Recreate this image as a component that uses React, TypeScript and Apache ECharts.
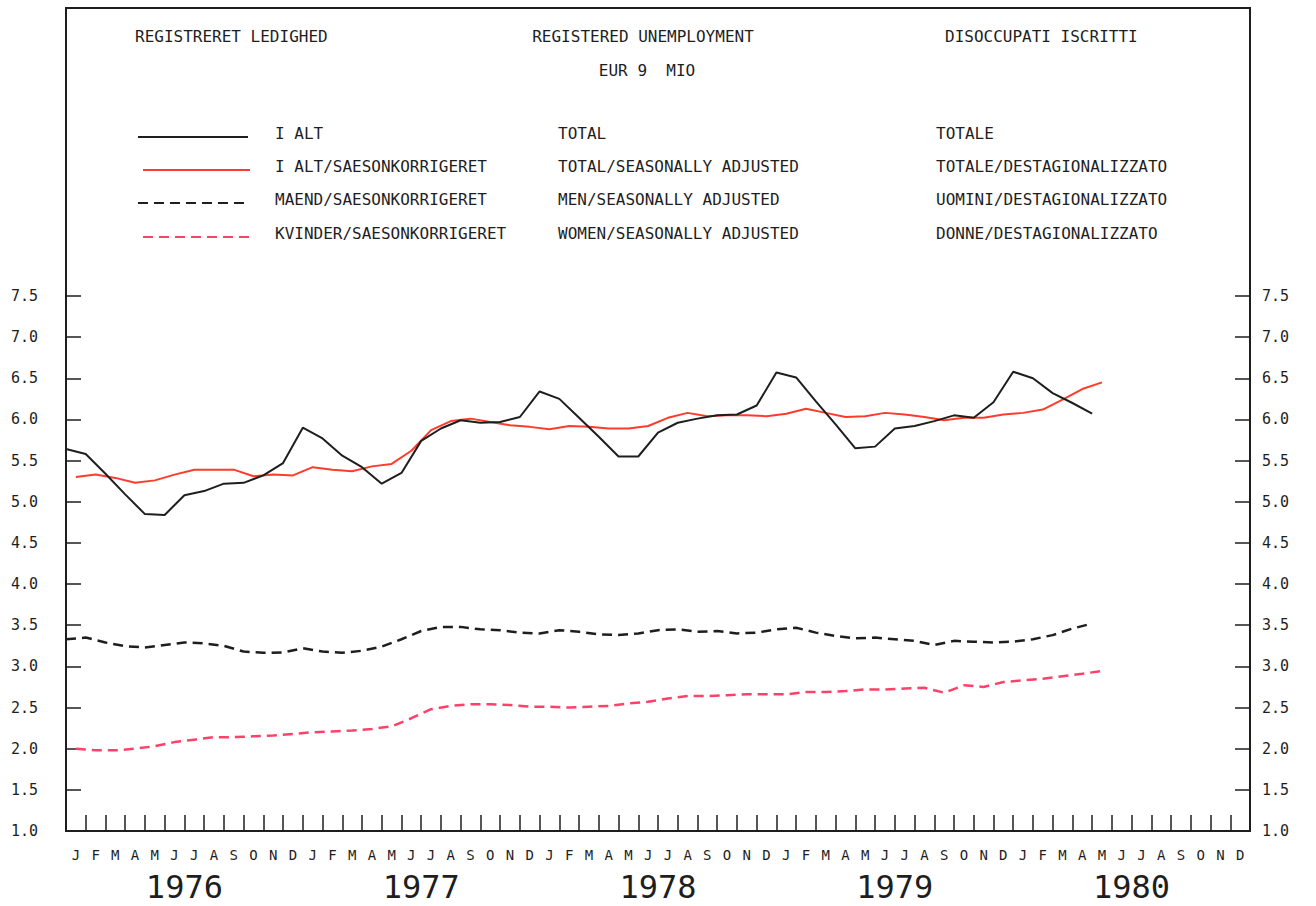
import React, { useEffect, useRef } from "react";
import * as echarts from "echarts";

// ---- data (millions, EUR 9) ----
const YEARS = ["1976", "1977", "1978", "1979", "1980"];
const MONTH_LETTERS = ["J", "F", "M", "A", "M", "J", "J", "A", "S", "O", "N", "D"];
const Y_MIN = 1.0;
const Y_MAX = 7.5;
const Y_STEP = 0.5;

// I ALT / TOTAL (monthly, Jan 1976 - May 1980)
const TOTAL = [
  5.64, 5.58, 5.34, 5.09, 4.85, 4.84, 5.08, 5.13, 5.22, 5.23,
  5.32, 5.47, 5.9, 5.77, 5.56, 5.42, 5.22, 5.35, 5.74, 5.89,
  5.99, 5.96, 5.97, 6.03, 6.34, 6.25, 6.02, 5.79, 5.55, 5.55,
  5.84, 5.96, 6.01, 6.05, 6.06, 6.17, 6.57, 6.51, 6.22, 5.94,
  5.65, 5.67, 5.89, 5.92, 5.98, 6.05, 6.02, 6.21, 6.58, 6.5,
  6.32, 6.2, 6.07,
];
// I ALT/SAESONKORRIGERET / TOTAL SEASONALLY ADJUSTED
const TOTAL_SA = [
  5.3, 5.33, 5.29, 5.23, 5.26, 5.33, 5.39, 5.39, 5.39, 5.31,
  5.33, 5.32, 5.42, 5.39, 5.37, 5.43, 5.46, 5.62, 5.87, 5.98,
  6.01, 5.97, 5.93, 5.91, 5.88, 5.92, 5.91, 5.89, 5.89, 5.92,
  6.02, 6.08, 6.04, 6.05, 6.05, 6.04, 6.07, 6.13, 6.08, 6.03,
  6.04, 6.08, 6.06, 6.03, 5.99, 6.02, 6.02, 6.06, 6.08, 6.12,
  6.24, 6.37, 6.45,
];
// MAEND / MEN seasonally adjusted
const MEN_SA = [
  3.33, 3.35, 3.29, 3.245, 3.23, 3.26, 3.29, 3.28, 3.25, 3.18,
  3.165, 3.17, 3.22, 3.18, 3.165, 3.19, 3.24, 3.33, 3.43, 3.48,
  3.48, 3.45, 3.44, 3.41, 3.4, 3.44, 3.42, 3.39, 3.38, 3.4,
  3.44, 3.45, 3.42, 3.43, 3.4, 3.41, 3.45, 3.47, 3.41, 3.37,
  3.34, 3.35, 3.33, 3.31, 3.26, 3.31, 3.3, 3.29, 3.3, 3.33,
  3.38, 3.46, 3.52,
];
// KVINDER / WOMEN seasonally adjusted
const WOMEN_SA = [
  2.0, 1.98, 1.98, 2.0, 2.03, 2.08, 2.11, 2.14, 2.14, 2.15,
  2.16, 2.18, 2.2, 2.21, 2.22, 2.24, 2.27, 2.37, 2.48, 2.52,
  2.54, 2.54, 2.53, 2.51, 2.51, 2.5, 2.51, 2.52, 2.55, 2.57,
  2.61, 2.64, 2.64, 2.65, 2.66, 2.66, 2.66, 2.69, 2.69, 2.7,
  2.72, 2.72, 2.73, 2.74, 2.68, 2.77, 2.75, 2.81, 2.83, 2.85,
  2.88, 2.91, 2.945,
];

const LEGEND_DA = ["I ALT", "I ALT/SAESONKORRIGERET", "MAEND/SAESONKORRIGERET", "KVINDER/SAESONKORRIGERET"];
const LEGEND_EN = ["TOTAL", "TOTAL/SEASONALLY ADJUSTED", "MEN/SEASONALLY ADJUSTED", "WOMEN/SEASONALLY ADJUSTED"];
const LEGEND_IT = ["TOTALE", "TOTALE/DESTAGIONALIZZATO", "UOMINI/DESTAGIONALIZZATO", "DONNE/DESTAGIONALIZZATO"];

// ---- styles ----
const FONT = "DejaVu Sans Mono";
const INK = "#1e1e1e";
const RED = "#ff3b2b";
const PINK = "#ff4068";
const DASH = [10, 6];

export default function App() {
  const ref = useRef<HTMLDivElement>(null);

  useEffect(() => {
    if (!ref.current) return;
    const chart = echarts.init(ref.current, undefined, { renderer: "svg" });

    const monthCats = YEARS.flatMap((y) => MONTH_LETTERS.map((_, i) => `${y}-${i}`));
    const boundaryCats = Array.from({ length: monthCats.length + 1 }, (_, i) => String(i));

    const left = 66;
    const right = 1250;
    const top = 296;
    const bottom = 831;
    const frameTop = 8;

    const legendStyles = [
      { color: INK, dash: "solid" as any, x1: 138, x2: 248 },
      { color: RED, dash: "solid" as any, x1: 143, x2: 250 },
      { color: INK, dash: DASH as any, x1: 138, x2: 248 },
      { color: PINK, dash: DASH as any, x1: 143, x2: 250 },
    ];
    const rowY = [133, 166, 199, 233];

    const txt = (x: number, y: number, text: string, align = "left") => ({
      type: "text",
      x,
      y,
      style: {
        text,
        font: `16px "${FONT}"`,
        fill: INK,
        align,
        verticalAlign: "middle",
      },
    });

    const graphics: any[] = [
      {
        type: "rect",
        shape: { x: left, y: frameTop, width: right - left, height: bottom - frameTop },
        style: { fill: "none", stroke: INK, lineWidth: 2 },
        z: 10,
      },
      txt(135, 36, "REGISTRERET LEDIGHED"),
      txt(643, 36, "REGISTERED UNEMPLOYMENT", "center"),
      txt(945, 36, "DISOCCUPATI ISCRITTI"),
      txt(647, 70, "EUR 9  MIO", "center"),
    ];
    legendStyles.forEach((s, i) => {
      graphics.push({
        type: "line",
        shape: { x1: s.x1, y1: rowY[i] + 4, x2: s.x2, y2: rowY[i] + 4 },
        style: { stroke: s.color, lineWidth: 2.2, lineDash: s.dash === "solid" ? null : s.dash },
      });
      graphics.push(txt(275, rowY[i], LEGEND_DA[i]));
      graphics.push(txt(558, rowY[i], LEGEND_EN[i]));
      graphics.push(txt(936, rowY[i], LEGEND_IT[i]));
    });

    const yAxisBase = (position: "left" | "right", margin: number) => ({
      type: "value",
      position,
      min: Y_MIN,
      max: Y_MAX,
      interval: Y_STEP,
      axisLine: { show: true, lineStyle: { color: INK, width: 2 } },
      axisTick: { show: true, inside: true, length: 15, lineStyle: { color: INK, width: 1.5 } },
      axisLabel: {
        margin,
        formatter: (v: number) => v.toFixed(1),
        fontFamily: FONT,
        fontSize: 15,
        color: INK,
      },
      splitLine: { show: false },
    });

    const option: any = {
      animation: false,
      backgroundColor: "#ffffff",
      grid: { left, right: 1316 - right, top, bottom: 906 - bottom, containLabel: false },
      graphic: graphics,
      xAxis: [
        {
          type: "category",
          data: monthCats,
          boundaryGap: true,
          position: "bottom",
          axisLine: { show: true, lineStyle: { color: INK, width: 2 } },
          axisTick: { show: true, inside: true, length: 16, interval: 0, lineStyle: { color: INK, width: 1.5 } },
          axisLabel: {
            interval: 0,
            margin: 17,
            formatter: (v: string) => MONTH_LETTERS[Number(v.split("-")[1])],
            fontFamily: FONT,
            fontSize: 14,
            color: INK,
          },
          splitLine: { show: false },
        },
        {
          type: "category",
          data: YEARS,
          position: "bottom",
          axisLine: { show: false },
          axisTick: { show: false },
          axisLabel: { interval: 0, margin: 40, fontFamily: FONT, fontSize: 32, color: INK },
          splitLine: { show: false },
        },
        {
          type: "category",
          data: boundaryCats,
          boundaryGap: false,
          show: false,
        },
      ],
      yAxis: [yAxisBase("left", 28), yAxisBase("right", 12)],
      series: [
        {
          name: "I ALT",
          type: "line",
          xAxisIndex: 2,
          yAxisIndex: 0,
          data: TOTAL,
          showSymbol: false,
          lineStyle: { color: INK, width: 2 },
          itemStyle: { color: INK },
          z: 4,
        },
        {
          name: "I ALT/SAESONKORRIGERET",
          type: "line",
          xAxisIndex: 0,
          yAxisIndex: 0,
          data: TOTAL_SA,
          showSymbol: false,
          lineStyle: { color: RED, width: 2 },
          itemStyle: { color: RED },
          z: 3,
        },
        {
          name: "MAEND/SAESONKORRIGERET",
          type: "line",
          xAxisIndex: 2,
          yAxisIndex: 0,
          data: MEN_SA,
          showSymbol: false,
          lineStyle: { color: INK, width: 2.5, type: DASH },
          itemStyle: { color: INK },
          z: 3,
        },
        {
          name: "KVINDER/SAESONKORRIGERET",
          type: "line",
          xAxisIndex: 0,
          yAxisIndex: 0,
          data: WOMEN_SA,
          showSymbol: false,
          lineStyle: { color: PINK, width: 2.5, type: DASH },
          itemStyle: { color: PINK },
          z: 3,
        },
      ],
    };

    chart.setOption(option);
    return () => chart.dispose();
  }, []);

  return (
    <div
      ref={ref}
      style={{ position: "absolute", left: 0, top: 0, width: 1316, height: 906, background: "#fff" }}
    />
  );
}
